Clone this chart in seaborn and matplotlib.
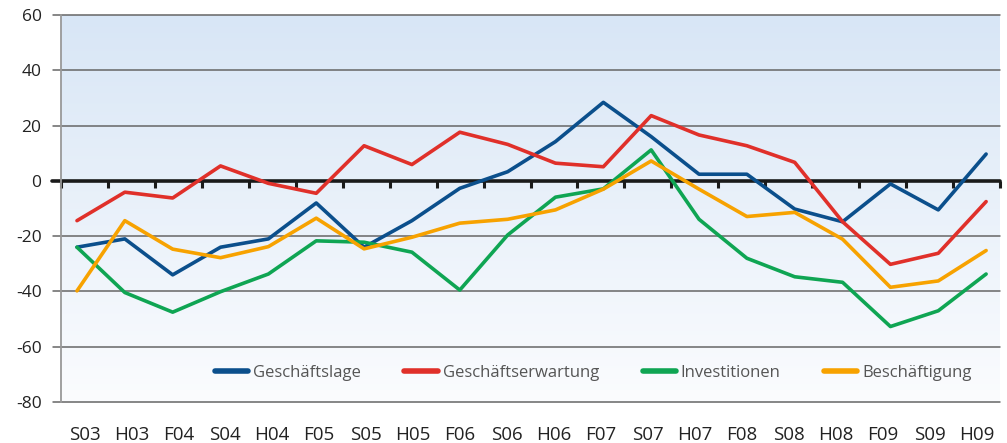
import numpy as np
import pandas as pd
import matplotlib.pyplot as plt
import seaborn as sns
from matplotlib.colors import LinearSegmentedColormap

# Halbjahre
perioden = ['S03', 'H03', 'F04', 'S04', 'H04', 'F05', 'S05', 'H05', 'F06', 'S06',
            'H06', 'F07', 'S07', 'H07', 'F08', 'S08', 'H08', 'F09', 'S09', 'H09']

geschaeftslage = [-24, -21, -34, -24, -21, -8, -24, -14.4, -2.7, 3.3,
                  14.2, 28.4, 16, 2.4, 2.4, -10.2, -14.8, -1.1, -10.5, 9.7]
geschaeftserwartung = [-14.4, -4.1, -6.2, 5.4, -0.9, -4.5, 12.7, 5.9, 17.6, 13.2,
                       6.4, 5.1, 23.6, 16.6, 12.7, 6.7, -14.8, -30.2, -26.2, -7.5]
investitionen = [-24, -40.4, -47.5, -40.1, -33.7, -21.7, -22.2, -25.8, -39.5, -19.6,
                 -5.9, -2.9, 11.2, -13.9, -28, -34.7, -36.7, -52.7, -47, -33.7]
beschaeftigung = [-39.8, -14.4, -24.7, -27.8, -23.8, -13.5, -24.6, -20.4, -15.3, -13.9,
                  -10.5, -3, 7.2, -3, -12.9, -11.4, -21.1, -38.5, -36.2, -25.2]

serien = ['Geschäftslage', 'Geschäftserwartung', 'Investitionen', 'Beschäftigung']
farben = ['#0b4f8c', '#e0302a', '#0fa553', '#f7a200']

df = pd.DataFrame({
    'x': list(range(len(perioden))) * 4,
    'wert': geschaeftslage + geschaeftserwartung + investitionen + beschaeftigung,
    'serie': [s for s in serien for _ in perioden],
})

sns.set_style('white')
plt.rcParams['font.family'] = ['Open Sans', 'DejaVu Sans']

fig = plt.figure(figsize=(10.07, 4.43), dpi=100)
ax = fig.add_axes([61 / 1007, 1 - 402 / 443, 939 / 1007, 387 / 443])

x0, x1 = -0.334, 19.29
ax.set_xlim(x0, x1)
ax.set_ylim(-80, 60)

# Hintergrundverlauf
cmap = LinearSegmentedColormap.from_list('bg', ['#fbfcfe', '#d8e6f6'])
grad = np.linspace(0, 1, 256).reshape(-1, 1)
ax.imshow(grad, extent=[x0, x1, -80, 60], origin='lower', aspect='auto',
          cmap=cmap, zorder=0)

for y in range(-80, 61, 20):
    if y != 0:
        ax.axhline(y, xmin=-8 / 939, xmax=1, color='#666666', lw=1.1,
                   clip_on=False, zorder=1)

# Nulllinie mit Strichen
bw = (x1 - x0) / 20
grenzen = [x0 + bw * i for i in range(21)]
ax.axhline(0, xmin=-9 / 939, xmax=1, color='#1a1a1a', lw=2.6, clip_on=False, zorder=2)
ax.vlines(grenzen, -2.6, 0, color='#1a1a1a', lw=2.2, zorder=2, clip_on=False)

sns.lineplot(data=df, x='x', y='wert', hue='serie', palette=farben,
             hue_order=serien, lw=2.6, ax=ax, zorder=3, legend=True)

ax.set_xticks([x0 + bw * (i + 0.5) for i in range(20)])
ax.set_xticklabels(perioden, fontsize=13.5, color='#222222')
ax.tick_params(axis='x', length=0, pad=17)
ax.set_yticks(range(-80, 61, 20))
ax.set_yticklabels([str(v) for v in range(-80, 61, 20)], fontsize=12.5, color='#222222')
ax.tick_params(axis='y', length=0, pad=14)
ax.set_xlabel('')
ax.set_ylabel('')

for s in ['top', 'right', 'bottom']:
    ax.spines[s].set_visible(False)
ax.spines['left'].set_color('#999999')
ax.spines['left'].set_linewidth(1.3)

leg = ax.legend(loc='center', bbox_to_anchor=(0.567, 0.075), ncol=4, frameon=False,
                fontsize=12, handlelength=2.0, handletextpad=0.3, columnspacing=2.6)
for line in leg.get_lines():
    line.set_linewidth(4)
    line.set_solid_capstyle('round')
for t in leg.get_texts():
    t.set_color('#555555')

fig.savefig('out.png', dpi=100)
